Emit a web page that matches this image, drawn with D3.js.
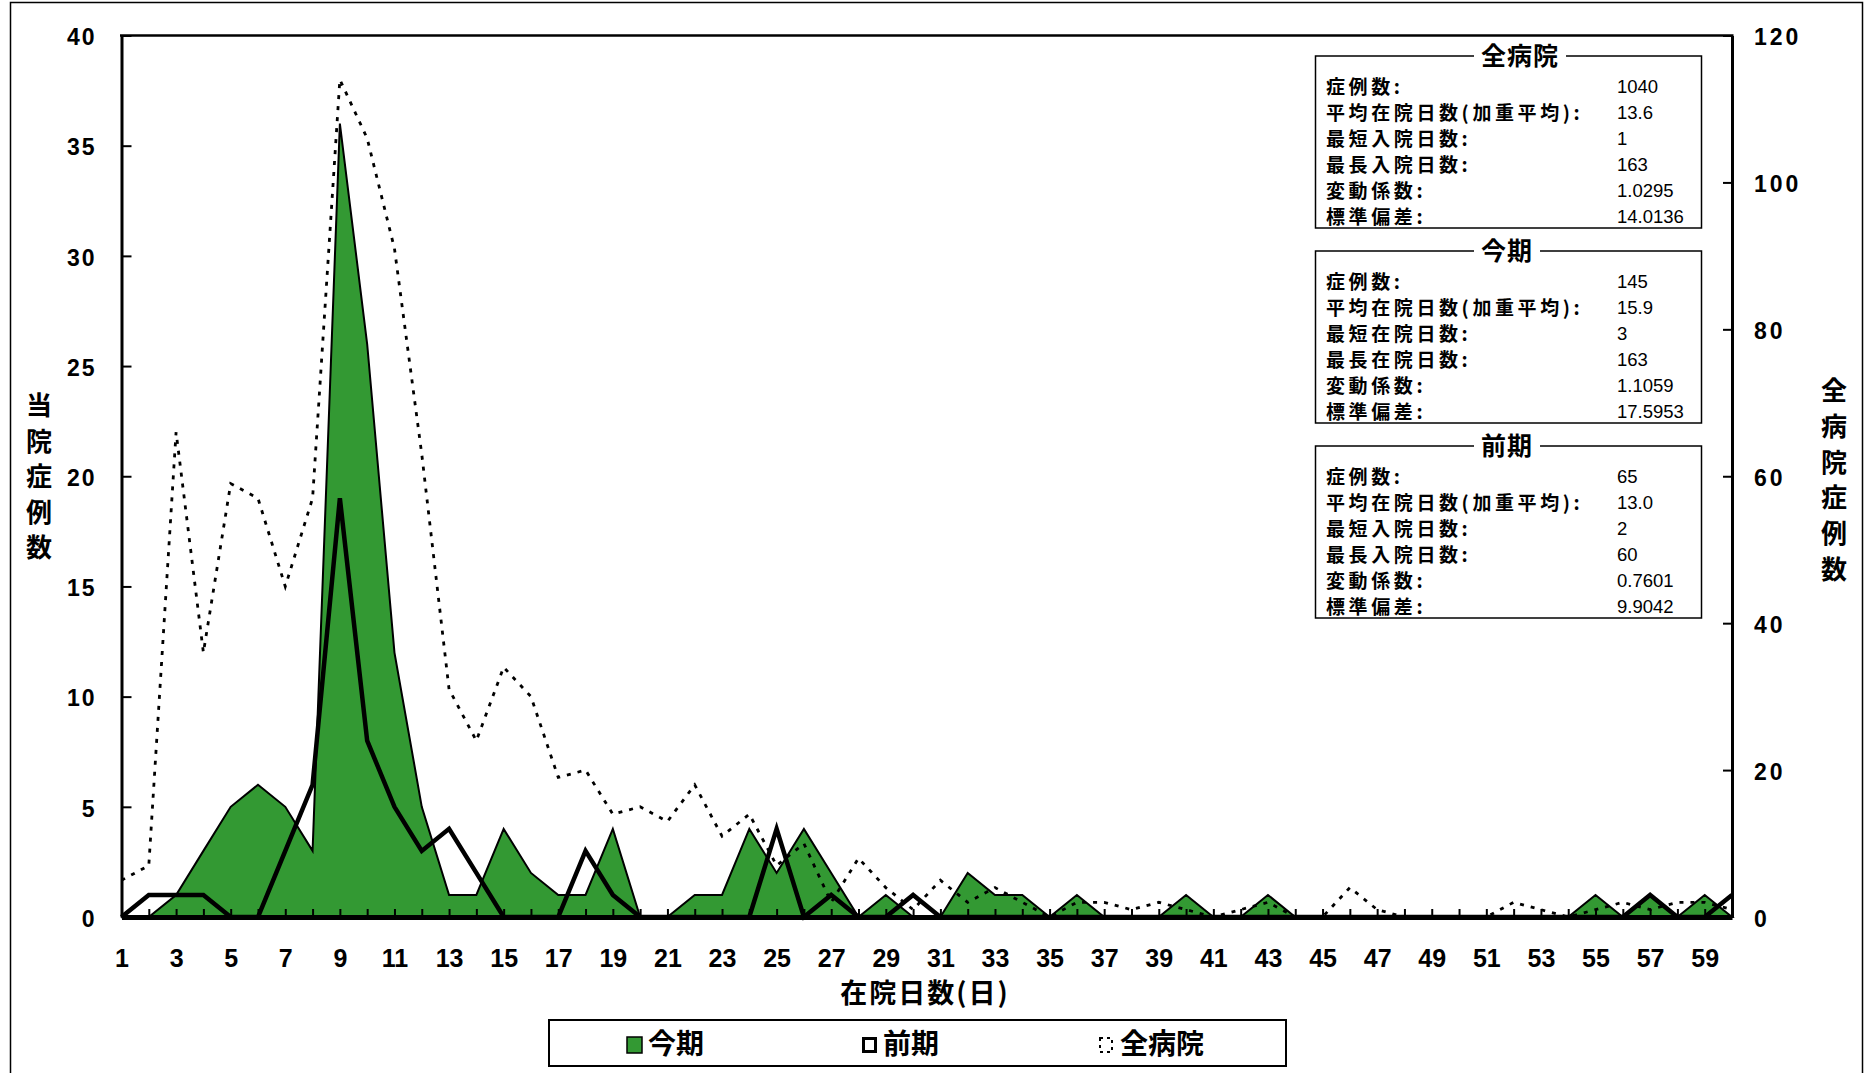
<!DOCTYPE html>
<html><head><meta charset="utf-8">
<script src="https://cdn.jsdelivr.net/npm/d3@7"></script>
<style>
body{margin:0;background:#fff}
svg{display:block}
</style>
</head><body>
<svg id="c" width="1865" height="1073"></svg>
<script>
// ---------- data ----------
const days = [1,2,3,4,5,6,7,8,9,10,11,12,13,14,15,16,17,18,19,20,21,22,23,24,25,26,27,28,29,30,
              31,32,33,34,35,36,37,38,39,40,41,42,43,44,45,46,47,48,49,50,51,52,53,54,55,56,57,58,59,60];
// 今期 (当院症例数, left axis)
const currentCases = [0,0,1,3,5,6,5,3,36,26,12,5,1,1,4,2,1,1,4,0,
                      0,1,1,4,2,4,2,0,1,0,0,2,1,1,0,1,0,0,0,1,
                      0,0,1,0,0,0,0,0,0,0,0,0,0,0,1,0,1,0,1,0];
// 前期 (当院症例数, left axis)
const previousCases = [0,1,1,1,0,0,3,6,19,8,5,3,4,2,0,0,0,3,1,0,
                       0,0,0,0,4,0,1,0,0,1,0,0,0,0,0,0,0,0,0,0,
                       0,0,0,0,0,0,0,0,0,0,0,0,0,0,0,0,1,0,0,1];
// 全病院 (全病院症例数, right axis)
const hospitalCases = [5,7,66,36,59,57,45,57,114,106,91,63,31,24,34,30,19,20,14,15,
                       13,18,11,14,7,10,2,8,4,1,5,2,4,2,0,2,2,1,2,1,
                       0,1,2,0,0,4,1,0,0,0,0,2,1,0,1,2,1,2,2,1];
const leftTicks = [0,5,10,15,20,25,30,35,40];
const rightTicks = [0,20,40,60,80,100,120];
const xTickLabels = [1,3,5,7,9,11,13,15,17,19,21,23,25,27,29,31,33,35,37,39,41,43,45,47,49,51,53,55,57,59];
const seriesNames = ["今期","前期","全病院"];
const leftTitle = "当院症例数";
const rightTitle = "全病院症例数";
const xTitle = "在院日数(日)";
const statTitles = ["全病院","今期","前期"];
const statLabels = [
  ["症例数:","平均在院日数(加重平均):","最短入院日数:","最長入院日数:","変動係数:","標準偏差:"],
  ["症例数:","平均在院日数(加重平均):","最短在院日数:","最長在院日数:","変動係数:","標準偏差:"],
  ["症例数:","平均在院日数(加重平均):","最短入院日数:","最長入院日数:","変動係数:","標準偏差:"]
];
const statValues = [
  ["1040","13.6","1","163","1.0295","14.0136"],
  ["145","15.9","3","163","1.1059","17.5953"],
  ["65","13.0","2","60","0.7601","9.9042"]
];

// ---------- layout ----------
const L = 121.5, R = 1732, T = 35.5, B = 917;
const GREEN = "#339933";
const cjk = "'Noto Sans CJK JP','Noto Sans',sans-serif";
const num = "'Liberation Sans',Arial,sans-serif";
const narrow = "'Liberation Sans Narrow','Liberation Sans',Arial,sans-serif";

const svg = d3.select("#c");
svg.append("rect").attr("width",1865).attr("height",1073).attr("fill","#fff");
// outer frame
svg.append("rect").attr("x",10.5).attr("y",2.5).attr("width",1852).attr("height",1080)
  .attr("fill","none").attr("stroke","#000").attr("stroke-width",1.5);

const x = d3.scalePoint().domain(days).range([L,R]);
const yL = d3.scaleLinear().domain([0,40]).range([B,T]);
const yR = d3.scaleLinear().domain([0,120]).range([B,T]);

// series
const area = d3.area().x((d,i)=>x(days[i])).y0(yL(0)).y1(d=>yL(d));
svg.append("path").datum(currentCases).attr("d",area)
  .attr("fill",GREEN).attr("stroke","#000").attr("stroke-width",2).attr("stroke-linejoin","miter");

const lineL = d3.line().x((d,i)=>x(days[i])).y(d=>yL(d));
svg.append("path").datum(previousCases).attr("d",lineL)
  .attr("fill","none").attr("stroke","#000").attr("stroke-width",4.5).attr("stroke-linejoin","miter");

const lineR = d3.line().x((d,i)=>x(days[i])).y(d=>yR(d));
svg.append("path").datum(hospitalCases).attr("d",lineR)
  .attr("fill","none").attr("stroke","#000").attr("stroke-width",2.8).attr("stroke-dasharray","4,7");

// axes
const axL = svg.append("g").attr("transform",`translate(${L},0)`)
  .call(d3.axisLeft(yL).tickValues(leftTicks).tickSize(-10).tickSizeOuter(0).tickPadding(25));
const axR = svg.append("g").attr("transform",`translate(${R},0)`)
  .call(d3.axisRight(yR).tickValues(rightTicks).tickSize(-9).tickSizeOuter(0).tickPadding(22));
const axB = svg.append("g").attr("transform",`translate(0,${B})`)
  .call(d3.axisBottom(x).tickSize(-8).tickSizeOuter(0).tickPadding(32)
        .tickFormat(d => xTickLabels.includes(d) ? d : ""));
[axL,axR,axB].forEach(g=>{
  g.selectAll(".tick line").attr("stroke","#000").attr("stroke-width",2);
  g.select(".domain").attr("stroke","#000");
});
axL.select(".domain").attr("stroke-width",3);
axR.select(".domain").attr("stroke-width",3);
axB.select(".domain").attr("stroke-width",5);
axL.selectAll(".tick text").attr("font-family",num).attr("font-weight","bold")
  .attr("font-size",23).attr("letter-spacing","2px").attr("fill","#000").attr("dy","0.4em");
axR.selectAll(".tick text").attr("font-family",num).attr("font-weight","bold")
  .attr("font-size",23).attr("letter-spacing","3px").attr("fill","#000").attr("dy","0.4em");
axB.selectAll(".tick text").attr("font-family",narrow).attr("font-weight","bold")
  .attr("font-size",25).attr("fill","#000");
// top border of plot area
svg.append("line").attr("x1",L-1.5).attr("x2",R+1.5).attr("y1",T).attr("y2",T)
  .attr("stroke","#000").attr("stroke-width",2.5);

// axis titles
svg.append("text").attr("x",925).attr("y",994).attr("dy","0.35em").attr("text-anchor","middle")
  .attr("font-family",cjk).attr("font-weight","bold").attr("font-size",27).attr("letter-spacing","2px")
  .text(xTitle);
function vtitle(str, cx, y0, step){
  const t = svg.append("text").attr("font-family",cjk).attr("font-weight","bold")
    .attr("font-size",26).attr("text-anchor","middle");
  Array.from(str).forEach((ch,i)=>{
    t.append("tspan").attr("x",cx).attr("y",y0+i*step).attr("dy","0.35em").text(ch);
  });
}
vtitle(leftTitle, 39, 406, 35.5);
vtitle(rightTitle, 1834, 391, 35.7);

// legend
svg.append("rect").attr("x",549).attr("y",1020).attr("width",737).attr("height",46)
  .attr("fill","#fff").attr("stroke","#000").attr("stroke-width",2);
const legX = [627, 862, 1099];
const lg = svg.append("g");
lg.append("rect").attr("x",legX[0]).attr("y",1037).attr("width",15).attr("height",16)
  .attr("fill",GREEN).attr("stroke","#000").attr("stroke-width",1.5);
lg.append("rect").attr("x",legX[1]+1.5).attr("y",1038.5).attr("width",12).attr("height",13)
  .attr("fill","#fff").attr("stroke","#000").attr("stroke-width",3);
lg.append("rect").attr("x",legX[2]+1).attr("y",1038).attr("width",12).attr("height",14)
  .attr("fill","none").attr("stroke","#000").attr("stroke-width",2).attr("stroke-dasharray","3,4");
seriesNames.forEach((n,i)=>{
  lg.append("text").attr("x",legX[i]+21).attr("y",1044).attr("dy","0.35em")
    .attr("font-family",cjk).attr("font-weight","bold").attr("font-size",28).text(n);
});

// stats boxes
const boxTops = [56, 251, 446];
const bx = 1315.5, bw = 386, bh = 172;
statTitles.forEach((title,k)=>{
  const g = svg.append("g");
  const top = boxTops[k];
  g.append("rect").attr("x",bx).attr("y",top).attr("width",bw).attr("height",bh)
    .attr("fill","#fff").attr("stroke","#000").attr("stroke-width",1.5);
  const bg = g.append("rect").attr("fill","#fff");
  const tt = g.append("text").attr("x",1481).attr("y",top).attr("dy","0.35em")
    .attr("font-family",cjk).attr("font-weight","bold").attr("font-size",25).attr("letter-spacing","1px").text(title);
  const bb = tt.node().getBBox();
  bg.attr("x",bb.x-7).attr("y",top-3).attr("width",bb.width+14).attr("height",6);
  statLabels[k].forEach((lab,i)=>{
    const yy = top + 31 + i*26;
    g.append("text").attr("x",1326).attr("y",yy).attr("dy","0.35em")
      .attr("font-family",cjk).attr("font-weight","bold").attr("font-size",19)
      .attr("letter-spacing","3.6px").text(lab);
    g.append("text").attr("x",1617).attr("y",yy).attr("dy","0.35em")
      .attr("font-family",num).attr("font-size",18.5).text(statValues[k][i]);
  });
});
</script>
</body></html>
